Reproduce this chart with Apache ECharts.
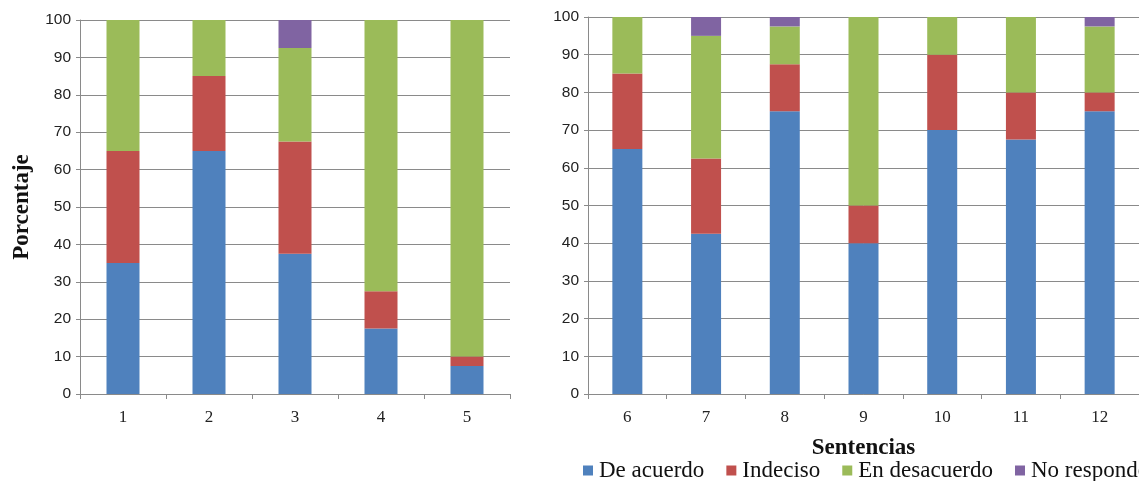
<!DOCTYPE html>
<html>
<head>
<meta charset="utf-8">
<script src="https://cdn.jsdelivr.net/npm/echarts@6/dist/echarts.min.js"></script>
<style>
  html, body { margin: 0; padding: 0; background: #ffffff; }
  #chart { width: 1139px; height: 481px; }
</style>
</head>
<body>
<div id="chart"></div>
<script>
// Sentences 1-5 (left panel) and 6-12 (right panel)
const categoriesA = ['1', '2', '3', '4', '5'];
const categoriesB = ['6', '7', '8', '9', '10', '11', '12'];

const seriesNames = ['De acuerdo', 'Indeciso', 'En desacuerdo', 'No responde'];
const seriesColors = ['#4F81BD', '#C0504D', '#9BBB59', '#8064A2'];

// Percentages per answer, left panel
const deAcuerdoA    = [35, 65, 37.5, 17.5, 7.5];
const indecisoA     = [30, 20, 30, 10, 2.5];
const desacuerdoA   = [35, 15, 25, 72.5, 90];
const noRespondeA   = [0, 0, 7.5, 0, 0];

// Percentages per answer, right panel
const deAcuerdoB    = [65, 42.5, 75, 40, 70, 67.5, 75];
const indecisoB     = [20, 20, 12.5, 10, 20, 12.5, 5];
const desacuerdoB   = [15, 32.5, 10, 50, 10, 20, 17.5];
const noRespondeB   = [0, 5, 2.5, 0, 0, 0, 2.5];

const yTicks = { min: 0, max: 100, interval: 10 };

const gridColor = '#8a8a8a';
const serif = '"Liberation Serif", "Times New Roman", serif';
const sans = '"Liberation Sans", Arial, sans-serif';

function yAxis(gridIndex, withName) {
  const ax = {
    type: 'value',
    gridIndex: gridIndex,
    min: yTicks.min,
    max: yTicks.max,
    interval: yTicks.interval,
    axisLine: { show: true, lineStyle: { color: gridColor, width: 1 } },
    axisTick: { show: true, length: 4, lineStyle: { color: gridColor } },
    axisLabel: { fontFamily: sans, fontSize: 15.5, color: '#222', margin: 9 },
    splitLine: { show: true, lineStyle: { color: gridColor, width: 1 } }
  };
  if (withName) {
    ax.name = 'Porcentaje';
    ax.nameLocation = 'middle';
    ax.nameGap = 46;
    ax.nameTextStyle = { fontFamily: serif, fontWeight: 'bold', fontSize: 23, color: '#111' };
  }
  return ax;
}

function xAxis(gridIndex, cats, withName) {
  const ax = {
    type: 'category',
    gridIndex: gridIndex,
    data: cats,
    axisLine: { show: true, lineStyle: { color: gridColor, width: 1 } },
    axisTick: { show: true, length: 5, alignWithLabel: false, lineStyle: { color: gridColor } },
    axisLabel: { fontFamily: serif, fontSize: 17, color: '#222', margin: 15 },
    splitLine: { show: false }
  };
  if (withName) {
    ax.name = 'Sentencias';
    ax.nameLocation = 'middle';
    ax.nameGap = 43;
    ax.nameTextStyle = { fontFamily: serif, fontWeight: 'bold', fontSize: 23, color: '#111' };
  }
  return ax;
}

function stackSeries(idx, values, stackName, barWidth, i) {
  return {
    name: seriesNames[i],
    type: 'bar',
    stack: stackName,
    xAxisIndex: idx,
    yAxisIndex: idx,
    barWidth: barWidth,
    itemStyle: { color: seriesColors[i] },
    data: values
  };
}

const leftData = [deAcuerdoA, indecisoA, desacuerdoA, noRespondeA];
const rightData = [deAcuerdoB, indecisoB, desacuerdoB, noRespondeB];

const series = [];
leftData.forEach((v, i) => series.push(stackSeries(0, v, 'left', 33, i)));
rightData.forEach((v, i) => series.push(stackSeries(1, v, 'right', 30, i)));

const option = {
  backgroundColor: '#ffffff',
  animation: false,
  grid: [
    { left: 80, right: 629, top: 20, bottom: 87 },
    { left: 588, right: -2, top: 17, bottom: 87 }
  ],
  xAxis: [xAxis(0, categoriesA, false), xAxis(1, categoriesB, true)],
  yAxis: [yAxis(0, true), yAxis(1, false)],
  legend: {
    data: seriesNames,
    left: 578,
    top: 454,
    width: 1200,
    orient: 'horizontal',
    icon: 'rect',
    itemWidth: 10,
    itemHeight: 10,
    itemGap: 22,
    textStyle: { fontFamily: serif, fontSize: 23, color: '#111', padding: [0, 0, 0, 1] }
  },
  series: series
};

const chart = echarts.init(document.getElementById('chart'), null, { renderer: 'canvas' });
chart.setOption(option);
</script>
</body>
</html>
